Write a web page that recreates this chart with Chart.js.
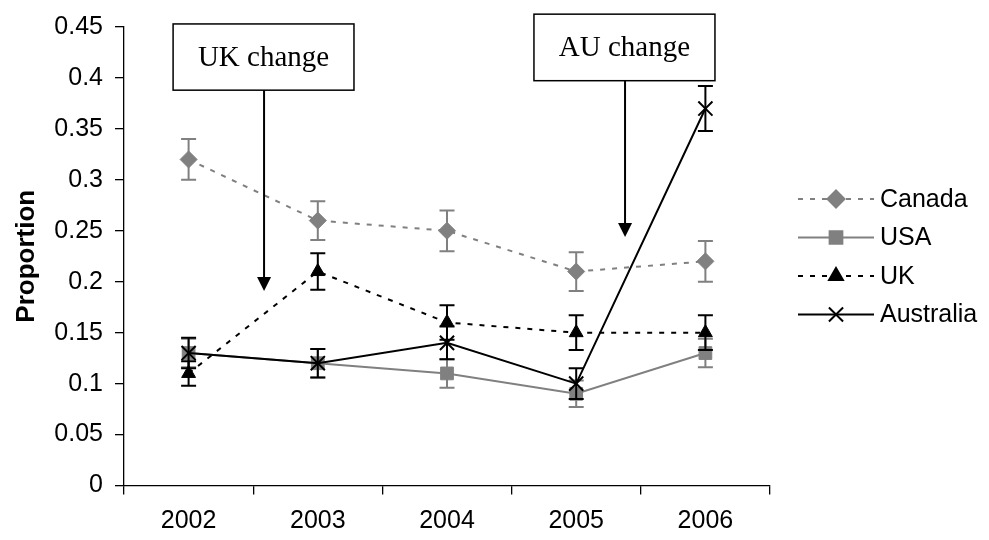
<!DOCTYPE html>
<html>
<head>
<meta charset="utf-8">
<script src="https://cdn.jsdelivr.net/npm/chart.js@4.4.0/dist/chart.umd.min.js"></script>
<style>
  html, body { margin: 0; padding: 0; background: #fff; }
  #wrap { width: 989px; height: 540px; }
</style>
</head>
<body>
<div id="wrap"><canvas id="proportionChart"></canvas></div>
<script>
const years = ['2002', '2003', '2004', '2005', '2006'];

const canada = [0.32, 0.26, 0.25, 0.21, 0.22];
const canadaErr = [0.02, 0.019, 0.02, 0.019, 0.02];

const usa = [0.13, 0.12, 0.11, 0.09, 0.13];
const usaErr = [0.014, 0.014, 0.014, 0.013, 0.014];

const uk = [0.11, 0.21, 0.16, 0.15, 0.15];
const ukErr = [0.012, 0.018, 0.017, 0.017, 0.017];

const australia = [0.13, 0.12, 0.14, 0.10, 0.37];
const australiaErr = [0.015, 0.014, 0.016, 0.015, 0.022];

// callout boxes, in axis units (x = category index, y = proportion)
const notes = [
    { text: 'UK change', left: -0.12, right: 1.28, top: 0.453, bottom: 0.388, arrowAt: 0.584, arrowTo: 0.191 },
    { text: 'AU change', left: 2.673, right: 4.074, top: 0.4626, bottom: 0.3973, arrowAt: 3.378, arrowTo: 0.244 }
];

const GREY = '#808080';
const FONT = 'Liberation Sans';

// error bars are drawn just before each series so its markers sit on top
const errorBars = {
    id: 'errorBars',
    beforeDatasetDraw(chart, args) {
        const ds = chart.data.datasets[args.index];
        const errs = ds.errors;
        if (!errs) return;
        const ctx = chart.ctx;
        const x = chart.scales.x;
        const y = chart.scales.y;
        ctx.save();
        ctx.strokeStyle = ds.borderColor;
        ctx.lineWidth = 2;
        ctx.setLineDash([]);
        ds.data.forEach((v, i) => {
            const px = x.getPixelForValue(i);
            const hi = y.getPixelForValue(v + errs[i]);
            const lo = y.getPixelForValue(v - errs[i]);
            ctx.beginPath();
            ctx.moveTo(px, hi); ctx.lineTo(px, lo);
            ctx.moveTo(px - 7.5, hi); ctx.lineTo(px + 7.5, hi);
            ctx.moveTo(px - 7.5, lo); ctx.lineTo(px + 7.5, lo);
            ctx.stroke();
        });
        ctx.restore();
    }
};

const callouts = {
    id: 'callouts',
    afterDraw(chart) {
        const ctx = chart.ctx;
        const x = chart.scales.x;
        const y = chart.scales.y;
        ctx.save();
        notes.forEach(n => {
            const l = x.getPixelForValue(n.left);
            const r = x.getPixelForValue(n.right);
            const t = y.getPixelForValue(n.top);
            const b = y.getPixelForValue(n.bottom);
            ctx.fillStyle = '#fff';
            ctx.fillRect(l, t, r - l, b - t);
            ctx.strokeStyle = '#000';
            ctx.lineWidth = 1.5;
            ctx.strokeRect(l, t, r - l, b - t);
            ctx.fillStyle = '#000';
            ctx.font = '29px "Liberation Serif"';
            ctx.textAlign = 'center';
            ctx.textBaseline = 'middle';
            ctx.fillText(n.text, (l + r) / 2, (t + b) / 2 + 1);
            // arrow
            const ax = x.getPixelForValue(n.arrowAt);
            const tip = y.getPixelForValue(n.arrowTo);
            ctx.lineWidth = 2;
            ctx.beginPath();
            ctx.moveTo(ax, b);
            ctx.lineTo(ax, tip - 12);
            ctx.stroke();
            ctx.beginPath();
            ctx.moveTo(ax - 7, tip - 14);
            ctx.lineTo(ax + 7, tip - 14);
            ctx.lineTo(ax, tip);
            ctx.closePath();
            ctx.fill();
        });
        ctx.restore();
    }
};

const sideLegend = {
    id: 'sideLegend',
    afterDraw(chart) {
        const ctx = chart.ctx;
        const x0 = chart.chartArea.right + 28;
        ctx.save();
        chart.data.datasets.forEach((ds, i) => {
            const yy = 199 + i * 38.5;
            ctx.strokeStyle = ds.borderColor;
            ctx.fillStyle = ds.borderColor;
            ctx.lineWidth = 2;
            ctx.setLineDash(ds.borderDash || []);
            ctx.beginPath();
            ctx.moveTo(x0, yy);
            ctx.lineTo(x0 + 76, yy);
            ctx.stroke();
            ctx.setLineDash([]);
            Chart.helpers.drawPoint(ctx, {
                pointStyle: ds.pointStyle,
                radius: ds.pointRadius,
                rotation: 0,
                borderWidth: ds.pointBorderWidth
            }, x0 + 38, yy);
            ctx.fillStyle = '#000';
            ctx.font = '25px "' + FONT + '"';
            ctx.textAlign = 'left';
            ctx.textBaseline = 'middle';
            ctx.fillText(ds.label, x0 + 82, yy + 1);
        });
        ctx.restore();
    }
};

const ctx = document.getElementById('proportionChart').getContext('2d');
const proportionChart = new Chart(ctx, {
    type: 'line',
    data: {
        labels: years,
        datasets: [{
            label: 'Canada',
            data: canada,
            errors: canadaErr,
            borderColor: GREY,
            backgroundColor: GREY,
            borderWidth: 2,
            borderDash: [5, 7],
            pointStyle: 'rectRot',
            pointRadius: 8.5,
            pointBorderWidth: 1,
            order: 3
        }, {
            label: 'USA',
            data: usa,
            errors: usaErr,
            borderColor: GREY,
            backgroundColor: GREY,
            borderWidth: 2,
            pointStyle: 'rect',
            pointRadius: 9,
            pointBorderWidth: 1,
            order: 2
        }, {
            label: 'UK',
            data: uk,
            errors: ukErr,
            borderColor: '#000',
            backgroundColor: '#000',
            borderWidth: 2,
            borderDash: [5, 7],
            pointStyle: 'triangle',
            pointRadius: 8,
            pointBorderWidth: 1,
            order: 1
        }, {
            label: 'Australia',
            data: australia,
            errors: australiaErr,
            borderColor: '#000',
            backgroundColor: '#000',
            borderWidth: 2,
            pointStyle: 'crossRot',
            pointRadius: 10,
            pointBorderWidth: 2,
            order: 0
        }]
    },
    options: {
        responsive: true,
        maintainAspectRatio: false,
        animation: false,
        layout: {
            padding: { left: 0, right: 219, top: 24, bottom: 0 }
        },
        elements: {
            line: { tension: 0, fill: false }
        },
        plugins: {
            legend: { display: false },
            tooltip: { enabled: false }
        },
        scales: {
            x: {
                offset: true,
                grid: { offset: true, drawOnChartArea: false, tickLength: 9, color: '#000', lineWidth: 1.3 },
                border: { color: '#000', width: 1.3 },
                ticks: {
                    color: '#000',
                    font: { family: FONT, size: 25 },
                    padding: 12,
                    maxRotation: 0
                },
                afterFit: (scale) => { scale.height = 54.5; }
            },
            y: {
                min: 0,
                max: 0.45,
                grid: { drawOnChartArea: false, tickLength: 9, color: '#000', lineWidth: 1.3 },
                border: { color: '#000', width: 1.3 },
                ticks: {
                    stepSize: 0.05,
                    color: '#000',
                    font: { family: FONT, size: 25 },
                    padding: 12,
                    callback: (v) => String(Math.round(v * 100) / 100)
                },
                title: {
                    display: true,
                    text: 'Proportion',
                    color: '#000',
                    font: { family: FONT, size: 26, weight: 'bold' },
                    padding: { top: 11, bottom: 0 }
                },
                afterFit: (scale) => { scale.width = 124; }
            }
        }
    },
    plugins: [errorBars, callouts, sideLegend]
});
</script>
</body>
</html>
